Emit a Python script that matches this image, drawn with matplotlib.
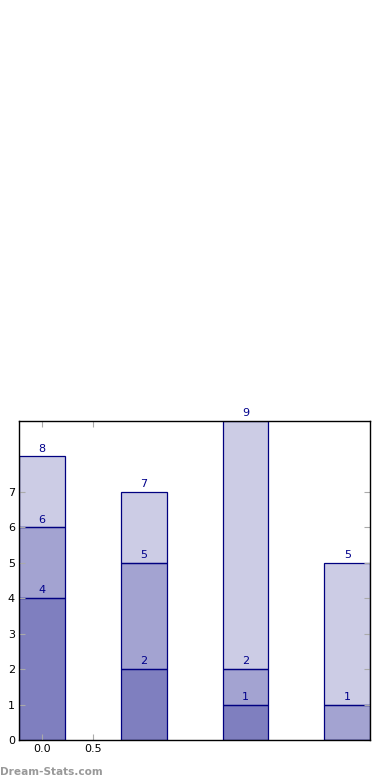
import matplotlib.pyplot as plt

positions = [0, 1, 2, 3]
first = [4, 2, 1, 0]
second = [2, 3, 1, 1]
third = [2, 2, 7, 4]
y_ticks = [0, 1, 2, 3, 4, 5, 6, 7]
x_ticks = [0.0, 0.5]

fig = plt.figure(figsize=(3.9, 7.8), dpi=100)
ax = fig.add_axes([0.049, 0.051, 0.9, 0.4093])

bottom = [0, 0, 0, 0]
for series, alpha in [(first, 0.5), (second, 0.36), (third, 0.2)]:
    face = (0, 0, 0.5, alpha)
    ax.bar(positions, series, width=0.45, bottom=bottom, color=face,
           edgecolor='navy', linewidth=0.9)
    bottom = [b + s for b, s in zip(bottom, series)]
    for x, top, s in zip(positions, bottom, series):
        if s > 0:
            ax.text(x, top + 0.08, str(top), ha='center', va='bottom',
                    color='darkblue', fontsize=8)

ax.set_xlim(-0.225, 3.225)
ax.set_ylim(0, 9)
ax.set_yticks(y_ticks)
ax.set_xticks(x_ticks)
ax.set_xticklabels(['0.0', '0.5'])
ax.tick_params(direction='in', length=4, color='#aaaaaa', labelsize=8,
               top=True, right=True, pad=3)
for sp in ax.spines.values():
    sp.set_linewidth(1.0)

fig.text(0.0, 0.004, 'Dream-Stats.com', color='#999999', fontsize=7.6,
         fontweight='bold', ha='left', va='bottom')

fig.savefig('out.png', dpi=100)
